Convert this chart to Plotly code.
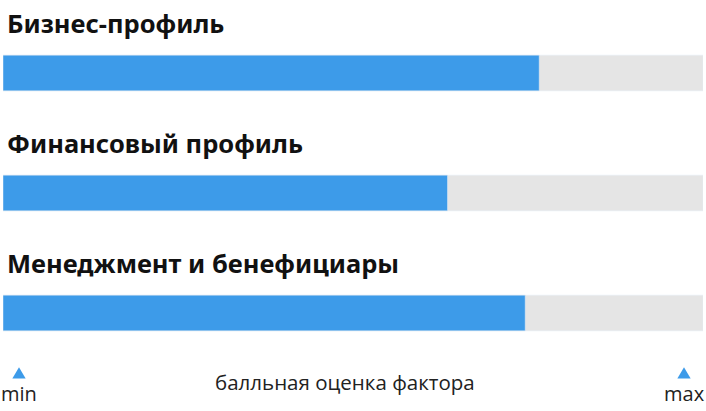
import plotly.graph_objects as go

# оценки по факторам (шкала 0..100)
factors = ["Бизнес-профиль", "Финансовый профиль", "Менеджмент и бенефициары"]
scores = [76.6, 63.5, 74.6]
max_score = [100, 100, 100]
scale_min_label = "min"
scale_max_label = "max"
scale_title = "балльная оценка фактора"

BLUE = "#3d9be9"
GREY = "#e5e5e5"

fig = go.Figure()

fig.add_trace(go.Bar(y=factors, x=max_score, orientation="h", marker_color=GREY,
                     width=0.2975, hoverinfo="skip", showlegend=False))
fig.add_trace(go.Bar(y=factors, x=scores, orientation="h", marker_color=BLUE,
                     width=0.2975, hoverinfo="skip", showlegend=False))

# заголовки над полосами
for f in factors:
    fig.add_annotation(x=0, y=f, xref="paper", yref="y", text="<b>%s</b>" % f,
                       showarrow=False, xanchor="left", yanchor="middle",
                       xshift=2, yshift=50,
                       font=dict(family="Noto Sans", size=25.5, color="#111111"))

# шкала снизу
fig.add_annotation(x=0.02286, y=-0.056, xref="paper", yref="paper", text=scale_min_label,
                   showarrow=False, xanchor="center", yanchor="middle",
                   font=dict(family="Open Sans", size=20, color="#222222"))
fig.add_annotation(x=0.97286, y=-0.056, xref="paper", yref="paper", text=scale_max_label,
                   showarrow=False, xanchor="center", yanchor="middle",
                   font=dict(family="Open Sans", size=20, color="#222222"))
fig.add_annotation(x=0.4879, y=-0.0253, xref="paper", yref="paper", text=scale_title,
                   showarrow=False, xanchor="center", yanchor="middle",
                   font=dict(family="Open Sans", size=20.5, color="#222222"))

for cx in (0.02286, 0.97286):
    fig.add_shape(type="path", xref="paper", yref="paper", line_width=0, fillcolor=BLUE,
                  path="M %f,%f L %f,%f L %f,%f Z" % (cx - 0.0095, -0.0155, cx, 0.0158, cx + 0.0095, -0.0155))

fig.update_layout(
    width=706, height=411,
    margin=dict(l=3, r=3, t=13, b=38),
    barmode="overlay",
    plot_bgcolor="white", paper_bgcolor="white",
    xaxis=dict(range=[0, 100], visible=False, fixedrange=True),
    yaxis=dict(categoryorder="array", categoryarray=factors, autorange=False,
               range=[2.5, -0.5], visible=False, fixedrange=True),
)

fig.write_html("out.html", config={"displayModeBar": False},
               post_script="document.body.style.margin='0';")
